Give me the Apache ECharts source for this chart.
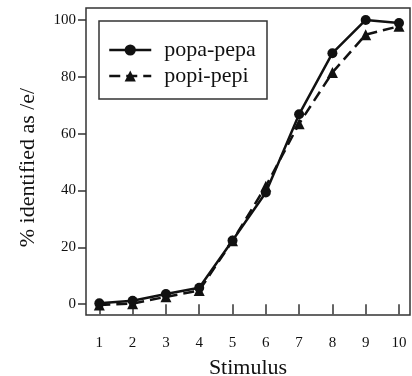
<!DOCTYPE html>
<html>
<head>
<meta charset="utf-8">
<script src="https://cdn.jsdelivr.net/npm/echarts@6/dist/echarts.min.js"></script>
<style>
  html, body { margin: 0; padding: 0; background: #fff; }
  #chart { width: 412px; height: 376px; }
</style>
</head>
<body>
<div id="chart"></div>
<script>
const stimuli = [1, 2, 3, 4, 5, 6, 7, 8, 9, 10]
const popaPepa = [0.3, 1.2, 3.6, 5.8, 22.4, 39.3, 66.8, 88.3, 100, 98.9]
const popiPepi = [-0.3, 0.2, 2.6, 4.8, 22.3, 41.5, 63.5, 81.5, 94.8, 97.8]
const yTicks = [0, 20, 40, 60, 80, 100]

const font = '"Liberation Serif", "DejaVu Serif", serif'
const ink = '#111'
const axisInk = '#333'

const pairs = (ys) => stimuli.map((x, i) => [x, ys[i]])

const chart = echarts.init(document.getElementById('chart'), null, { renderer: 'canvas' })

chart.setOption({
  animation: false,
  backgroundColor: '#fff',
  textStyle: { fontFamily: font, color: ink },
  grid: {
    left: 86, right: 2, top: 8, bottom: 61,
    outerBoundsMode: 'none',
    containLabel: false,
    show: true, borderColor: axisInk, borderWidth: 1.5
  },
  xAxis: {
    type: 'value',
    min: 0.6,
    max: 10.33,
    name: 'Stimulus',
    nameLocation: 'middle',
    nameGap: 42,
    nameTextStyle: { fontFamily: font, fontSize: 22, color: ink },
    axisLine: { show: false },
    splitLine: { show: false },
    axisTick: {
      show: true,
      inside: false,
      length: 10,
      customValues: stimuli,
      lineStyle: { color: axisInk, width: 1.5 }
    },
    axisLabel: {
      customValues: stimuli,
      margin: 21,
      fontFamily: font,
      fontSize: 15,
      color: ink
    }
  },
  yAxis: {
    type: 'value',
    min: -3.8,
    max: 104.2,
    name: '% identified as /e/',
    nameLocation: 'middle',
    nameGap: 47,
    nameTextStyle: { fontFamily: font, fontSize: 22, color: ink, padding: [0, 12, 0, 0] },
    axisLine: { show: false },
    splitLine: { show: false },
    axisTick: {
      show: true,
      inside: false,
      length: 8,
      customValues: yTicks,
      lineStyle: { color: axisInk, width: 1.5 }
    },
    axisLabel: {
      customValues: yTicks,
      margin: 10,
      fontFamily: font,
      fontSize: 15,
      color: ink
    }
  },
  graphic: [
    {
      type: 'rect',
      shape: { x: 99, y: 21, width: 168, height: 78 },
      style: { fill: 'none', stroke: axisInk, lineWidth: 1.5 },
      z: 100
    }
  ],
  legend: {
    orient: 'vertical',
    left: 103,
    top: 34,
    itemWidth: 42,
    itemHeight: 14,
    itemGap: 4,
    lineStyle: { width: 2.5 },
    textStyle: {
      fontFamily: font,
      fontSize: 22,
      lineHeight: 22,
      color: ink,
      padding: [0, 0, 0, 8]
    },
    data: ['popa-pepa', 'popi-pepi']
  },
  series: [
    {
      name: 'popa-pepa',
      type: 'line',
      data: pairs(popaPepa),
      symbol: 'circle',
      symbolSize: 10,
      lineStyle: { color: ink, width: 2.5, type: 'solid' },
      itemStyle: { color: ink },
      z: 3
    },
    {
      name: 'popi-pepi',
      type: 'line',
      data: pairs(popiPepi),
      symbol: 'triangle',
      symbolSize: 11,
      lineStyle: { color: ink, width: 2.5, type: [11, 6] },
      itemStyle: { color: ink },
      z: 2
    }
  ]
})
</script>
</body>
</html>
